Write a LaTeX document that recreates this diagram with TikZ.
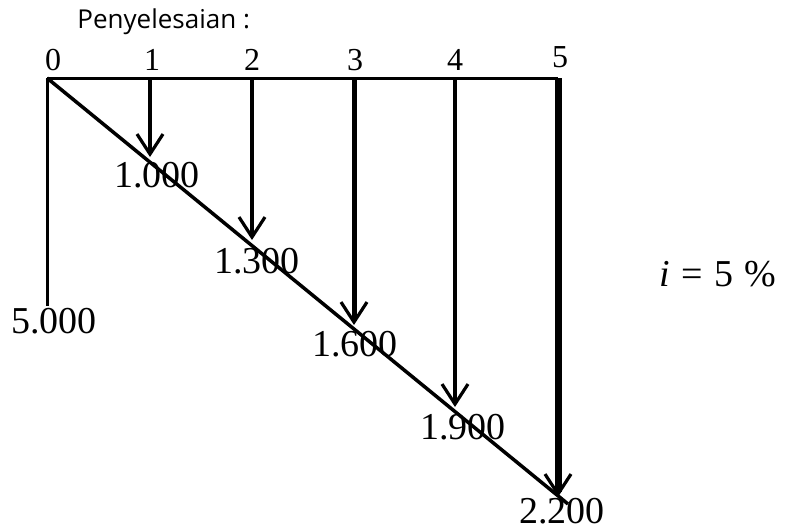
\documentclass[tikz,border=0pt]{standalone}
\usepackage{fontspec}
\setmainfont{Liberation Serif}
\newfontfamily\titlefont{Open Sans}
\usetikzlibrary{arrows.meta}

\begin{document}
\begin{tikzpicture}[x=0.5pt, y=-0.5pt, >={Straight Barb[length=10pt,width=13pt,line width=1.6pt 0]},
        val/.style={font=\fontsize{19}{22}\selectfont, inner sep=0pt},
        yr/.style={font=\fontsize{16}{19}\selectfont, inner sep=0pt}]
        \useasboundingbox (0,0) rectangle (787,531);
        \path 
        (47,78)  coordinate (p0)
        (150,78) coordinate (p1)
        (252,78) coordinate (p2)
        (354,78) coordinate (p3)
        (455,78) coordinate (p4)
        (558,78) coordinate (p5)
        (47,306) coordinate (e0)
        (150,157) coordinate (e1)
        (252,240) coordinate (e2)
        (354,325) coordinate (e3)
        (455,407) coordinate (e4)
        (558,497) coordinate (e5)
        (568,504) coordinate (d5)
        ;
        
        \draw 
        (77,28) node[anchor=base west, inner sep=0pt, font=\titlefont\fontsize{13}{16}\selectfont] (title) {Penyelesaian :}
        (53,60) node[yr] (t0) {0}
        (152,60) node[yr] (t1) {1}
        (252,60) node[yr] (t2) {2}
        (355,60) node[yr] (t3) {3}
        (455,60) node[yr] (t4) {4}
        (560,57) node[yr] (t5) {5}
        (54,321) node[val] (v0) {5.000}
        (157,175) node[val] (v1) {1.000}
        (257,261) node[val] (v2) {1.300}
        (355,344) node[val] (v3) {1.600}
        (463,427) node[val] (v4) {1.900}
        (562,511) node[val] (v5) {2.200}
        (718,274) node[val] (rate) {\textit{i}\hspace{0.3em}=\hspace{0.3em}5\hspace{0.3em}\%}
        ;
        
        \draw[line width=1.5pt] (p0) to (p5);
        \draw[line width=1.5pt] (p0) to (e0);
        \draw[line width=1.75pt] (p0) to (d5);
        
        \draw[line width=1.75pt,->] (p1) to (e1);
        \draw[line width=2pt,->] (p2) to (e2);
        \draw[line width=2.5pt,->] (p3) to (e3);
        \draw[line width=2pt,->] (p4) to (e4);
        \draw[line width=3.5pt,->] (p5) to (e5);
\end{tikzpicture}
\end{document}
